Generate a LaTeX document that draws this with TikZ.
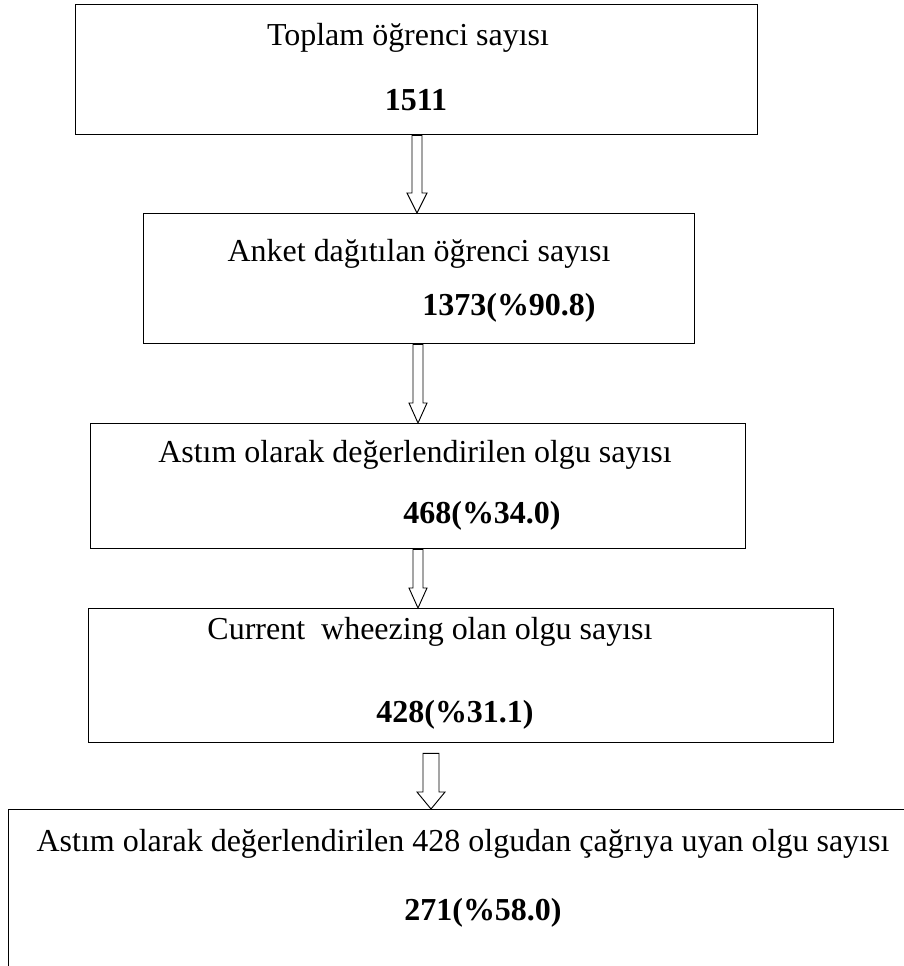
\documentclass[tikz,border=0pt]{standalone}
\usepackage{fontspec}
\setmainfont{Liberation Serif}
\usetikzlibrary{calc}

% hollow down arrow: from point, to point, x coordinate, shaft half, head half, head length
\newcommand{\hollowdown}[6]{%
\draw [hollow] ($(#1 -| #3)+(-#4,0)$) -- ($(#2 -| #3)+(-#4,-#6)$) -- ($(#2 -| #3)+(-#5,-#6)$) -- (#2 -| #3)
  -- ($(#2 -| #3)+(#5,-#6)$) -- ($(#2 -| #3)+(#4,-#6)$) -- ($(#1 -| #3)+(#4,0)$) -- cycle;}

\tikzset{
  box/.style={draw, line width=1.1pt, inner sep=0pt, anchor=north west},
  hollow/.style={draw, fill=white, line width=0.8pt, line join=miter},
  txt/.style={anchor=base, inner sep=0pt},
  num/.style={anchor=base, inner sep=0pt, font=\fontsize{27.3}{32}\selectfont\bfseries}
}

\begin{document}
\begin{tikzpicture}[x=0.03cm, y=-0.03cm, font=\fontsize{27.3}{32}\selectfont]
\useasboundingbox (0,0) rectangle (904,966);

\node [box, minimum width=682*0.03cm, minimum height=130*0.03cm] (b1) at (75,4) {};
\node [txt] (t1) at (408,45) {Toplam öğrenci sayısı};
\node [num] (n1) at (416,110) {1511};

\node [box, minimum width=551*0.03cm, minimum height=130*0.03cm] (b2) at (143,213) {};
\node [txt] (t2) at (419,261) {Anket dağıtılan öğrenci sayısı};
\node [num] (n2) at (509,315) {1373(\%90.8)};

\node [box, minimum width=655*0.03cm, minimum height=125*0.03cm] (b3) at (90,423) {};
\node [txt] (t3) at (415,462) {Astım olarak değerlendirilen olgu sayısı};
\node [num] (n3) at (482,523) {468(\%34.0)};

\node [box, minimum width=745*0.03cm, minimum height=134*0.03cm] (b4) at (88,608) {};
\node [txt] (t4) at (430,639) {Current~ wheezing olan olgu sayısı};
\node [num] (n4) at (455,722) {428(\%31.1)};

\node [box, minimum width=904*0.03cm, minimum height=171*0.03cm] (b5) at (8,809) {};
\node [txt] (t5) at (463,851) {Astım olarak değerlendirilen 428 olgudan çağrıya uyan olgu sayısı};
\node [num] (n5) at (483,920) {271(\%58.0)};

\coordinate (m1) at (417,0);
\coordinate (m2) at (418,0);
\coordinate (m3) at (418,0);
\coordinate (m4) at (431,0);
\coordinate (a4top) at ($(b4.south)+(0,10)$);

\hollowdown{b1.south}{b2.north}{m1}{5}{10}{20}
\hollowdown{b2.south}{b3.north}{m2}{5}{9}{20}
\hollowdown{b3.south}{b4.north}{m3}{5}{9}{20}
\hollowdown{a4top}{b5.north}{m4}{8}{14}{17}
\end{tikzpicture}
\end{document}
